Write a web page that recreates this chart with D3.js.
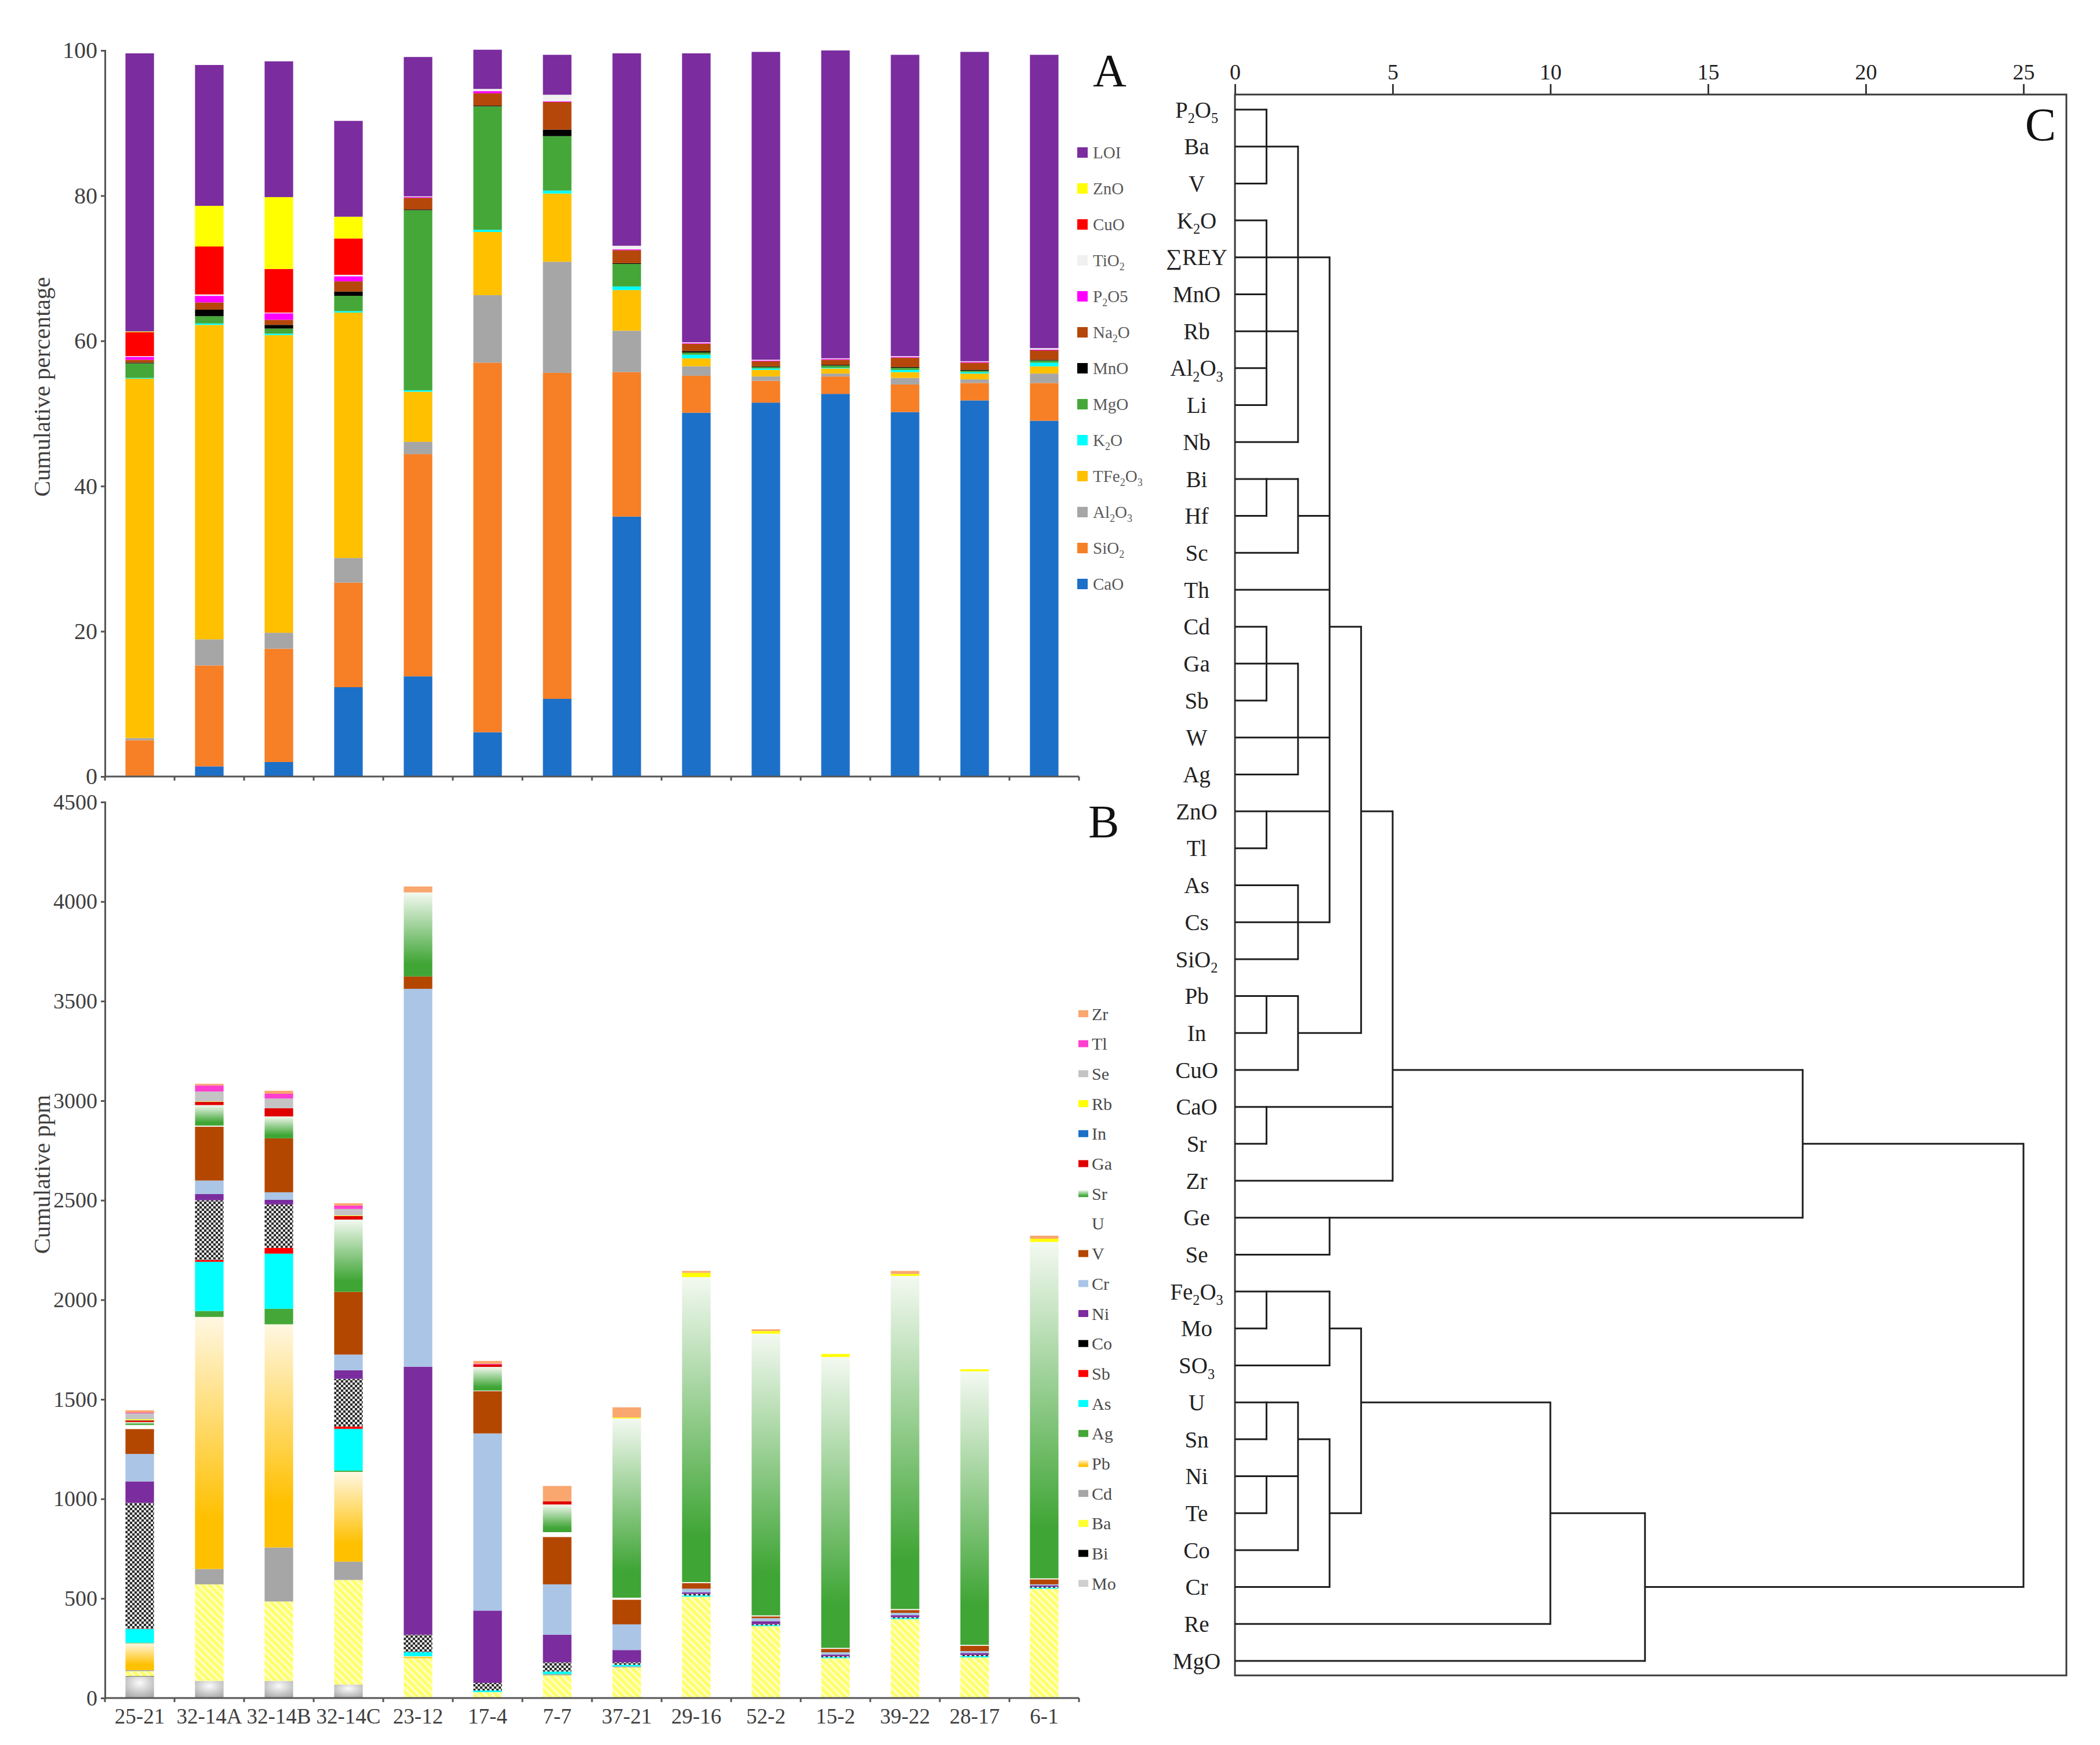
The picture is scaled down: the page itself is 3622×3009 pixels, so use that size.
<!DOCTYPE html>
<html>
<head>
<meta charset="utf-8">
<script src="https://cdn.jsdelivr.net/npm/d3@7"></script>
<style>
body { margin: 0; background: #fff; }
svg { display: block; }
text { font-family: "Liberation Serif", "Times New Roman", serif; }
</style>
</head>
<body>
<svg id="chart"></svg>
<script>
const samples = ["25-21", "32-14A", "32-14B", "32-14C", "23-12", "17-4", "7-7", "37-21", "29-16", "52-2", "15-2", "39-22", "28-17", "6-1"];

// panel A, major oxides (wt%), bottom to top
const CaO    = [0.1, 1.4, 2.0, 12.3, 13.8, 6.1, 10.7, 35.8, 50.1, 51.5, 52.7, 50.2, 51.8, 49.0];
const SiO2   = [4.9, 13.9, 15.6, 14.4, 30.6, 50.9, 44.9, 19.9, 5.1, 3.0, 2.4, 3.8, 2.4, 5.2];
const Al2O3  = [0.3, 3.6, 2.2, 3.4, 1.7, 9.3, 15.3, 5.7, 1.3, 0.6, 0.4, 0.9, 0.5, 1.3];
const TFe2O3 = [49.5, 43.3, 41.0, 33.8, 6.9, 8.7, 9.4, 5.6, 1.1, 0.9, 0.7, 0.8, 0.8, 1.0];
const K2O    = [0.1, 0.2, 0.2, 0.2, 0.2, 0.3, 0.4, 0.5, 0.5, 0.2, 0.1, 0.3, 0.2, 0.5];
const MgO    = [2.0, 1.0, 0.7, 2.1, 24.8, 17.0, 7.5, 3.1, 0.3, 0.2, 0.3, 0.3, 0.2, 0.3];
const MnO    = [0.1, 0.9, 0.5, 0.6, 0.1, 0.1, 0.9, 0.1, 0.2, 0.1, 0.1, 0.1, 0.1, 0.1];
const Na2O   = [0.4, 1.0, 0.7, 1.4, 1.6, 1.7, 3.8, 1.8, 1.0, 0.7, 0.7, 1.3, 1.0, 1.3];
const P2O5   = [0.4, 0.9, 0.9, 0.7, 0.1, 0.3, 0.1, 0.1, 0.1, 0.1, 0.1, 0.1, 0.1, 0.1];
const TiO2   = [0.1, 0.2, 0.1, 0.2, 0.1, 0.3, 0.9, 0.5, 0.1, 0.1, 0.1, 0.1, 0.1, 0.2];
const CuO    = [3.3, 6.6, 6.0, 5.0, 0, 0, 0, 0, 0, 0, 0, 0, 0, 0];
const ZnO    = [0.1, 5.6, 9.9, 3.0, 0, 0, 0, 0, 0, 0, 0, 0, 0, 0];
const LOI    = [38.3, 19.4, 18.7, 13.2, 19.2, 5.4, 5.5, 26.5, 39.8, 42.4, 42.4, 41.5, 42.6, 40.4];

const keysA   = ["CaO", "SiO2", "Al2O3", "TFe2O3", "K2O", "MgO", "MnO", "Na2O", "P2O5", "TiO2", "CuO", "ZnO", "LOI"];
const labelsA = ["CaO", "SiO_2", "Al_2O_3", "TFe_2O_3", "K_2O", "MgO", "MnO", "Na_2O", "P_2O5", "TiO_2", "CuO", "ZnO", "LOI"];
const colorsA = ["#1c70c8", "#f77f26", "#a6a6a6", "#ffc000", "#00ffff", "#45a738", "#000000", "#b5470a", "#ff00ff", "#f0f0f0", "#ff0000", "#ffff00", "#7b2c9e"];
const valuesA = [CaO, SiO2, Al2O3, TFe2O3, K2O, MgO, MnO, Na2O, P2O5, TiO2, CuO, ZnO, LOI];

// panel B, trace elements (ppm), bottom to top
const Mo = [108, 86, 86, 68, 0, 0, 0, 0, 0, 0, 0, 0, 0, 0];
const Bi = [2, 0, 0, 0, 0, 0, 0, 0, 0, 0, 0, 0, 0, 0];
const Ba = [25, 485, 399, 525, 200, 30, 114, 154, 509, 361, 200, 396, 204, 549];
const Cd = [5, 77, 271, 92, 0, 0, 5, 5, 0, 0, 0, 0, 0, 0];
const Pb = [135, 1266, 1121, 451, 10, 0, 0, 0, 0, 0, 0, 0, 0, 0];
const Ag = [3, 30, 78, 6, 0, 0, 2, 0, 0, 0, 0, 0, 0, 0];
const As = [70, 247, 277, 210, 20, 8, 12, 8, 6, 5, 5, 5, 6, 5];
const Sb = [2, 9, 29, 12, 0, 0, 0, 0, 0, 0, 0, 0, 0, 0];
const Co = [630, 300, 218, 239, 88, 38, 46, 12, 8, 5, 5, 5, 6, 5];
const Ni = [108, 31, 23, 43, 1346, 363, 139, 62, 8, 15, 8, 10, 10, 6];
const Cr = [138, 68, 38, 79, 1898, 890, 253, 129, 18, 15, 12, 12, 10, 6];
const V  = [125, 271, 271, 315, 62, 212, 238, 124, 28, 9, 17, 14, 26, 25];
const U  = [20, 5, 0, 0, 0, 3, 24, 10, 5, 5, 5, 5, 5, 5];
const Sr = [15, 103, 110, 363, 422, 119, 139, 900, 1532, 1415, 1461, 1673, 1374, 1690];
const Ga = [8, 16, 41, 18, 0, 12, 16, 0, 0, 0, 0, 0, 0, 0];
const In = [1, 0, 0, 0, 0, 0, 0, 0, 0, 0, 0, 0, 0, 0];
const Rb = [5, 2, 0, 3, 0, 0, 0, 5, 22, 13, 15, 10, 10, 16];
const Se = [30, 50, 49, 32, 0, 0, 0, 0, 0, 0, 0, 0, 0, 0];
const Tl = [3, 31, 24, 17, 0, 3, 0, 0, 0, 0, 0, 0, 0, 0];
const Zr = [12, 8, 15, 12, 30, 15, 77, 51, 9, 9, 0, 15, 0, 15];

const keysB   = ["Mo", "Bi", "Ba", "Cd", "Pb", "Ag", "As", "Sb", "Co", "Ni", "Cr", "V", "U", "Sr", "Ga", "In", "Rb", "Se", "Tl", "Zr"];
const colorsB = ["url(#gMo)", "#000000", "url(#pBa)", "#a6a6a6", "url(#gPb)", "#45a738", "#00ffff", "#ff0000", "url(#pCo)", "#7b2c9e",
                 "#aac5e6", "#b34700", "#ffffff", "url(#gSr)", "#e00000", "#1c70c8", "#ffff00", "#c4c4c4", "#ff3fcf", "#f9a66f"];
const legendB = ["#cfcfcf", "#000000", "#ffff33", "#a6a6a6", "url(#gPb)", "#45a738", "#00ffff", "#ff0000", "#000000", "#7b2c9e",
                 "#aac5e6", "#b34700", "#ffffff", "url(#gSr)", "#e00000", "#1c70c8", "#ffff00", "#c4c4c4", "#ff3fcf", "#f9a66f"];
const valuesB = [Mo, Bi, Ba, Cd, Pb, Ag, As, Sb, Co, Ni, Cr, V, U, Sr, Ga, In, Rb, Se, Tl, Zr];

const ticksA = [0, 20, 40, 60, 80, 100];
const ticksB = [0, 500, 1000, 1500, 2000, 2500, 3000, 3500, 4000, 4500];

// panel C, dendrogram (rescaled distance 0-25)
const leaves = ["P_2O_5", "Ba", "V", "K_2O", "\u2211REY", "MnO", "Rb", "Al_2O_3", "Li", "Nb", "Bi", "Hf", "Sc", "Th", "Cd", "Ga", "Sb", "W", "Ag",
                "ZnO", "Tl", "As", "Cs", "SiO_2", "Pb", "In", "CuO", "CaO", "Sr", "Zr", "Ge", "Se", "Fe_2O_3", "Mo", "SO_3", "U", "Sn", "Ni", "Te",
                "Co", "Cr", "Re", "MgO"];
const ticksC = [0, 5, 10, 15, 20, 25];
// horizontal links: [leaf row, distance from, distance to]
const linksH = [
  [0, 0, 1], [1, 0, 2], [2, 0, 1], [3, 0, 1], [4, 0, 3], [5, 0, 1], [6, 0, 2], [7, 0, 1], [8, 0, 1], [9, 0, 2],
  [10, 0, 2], [11, 0, 1], [11, 2, 3], [12, 0, 2], [13, 0, 3], [14, 0, 1], [14, 3, 4], [15, 0, 2], [16, 0, 1], [17, 0, 3],
  [18, 0, 2], [19, 0, 3], [19, 4, 5], [20, 0, 1], [21, 0, 2], [22, 0, 3], [23, 0, 2], [24, 0, 2], [25, 0, 1], [25, 2, 4],
  [26, 0, 2], [26, 5, 18], [27, 0, 5], [28, 0, 1], [28, 18, 25], [29, 0, 5], [30, 0, 18], [31, 0, 3], [32, 0, 3], [33, 0, 1],
  [33, 3, 4], [34, 0, 3], [35, 0, 2], [35, 4, 10], [36, 0, 1], [36, 2, 3], [37, 0, 2], [38, 0, 1], [38, 3, 4], [38, 10, 13],
  [39, 0, 2], [40, 0, 3], [40, 13, 25], [41, 0, 10], [42, 0, 13]
];
// vertical joins: [distance, from row, to row]
const linksV = [
  [1, 0, 2], [2, 1, 9], [1, 3, 8], [1, 10, 11], [2, 10, 12], [3, 4, 22], [1, 14, 16], [2, 15, 18], [1, 19, 20], [4, 14, 25],
  [5, 19, 29], [2, 21, 23], [1, 24, 25], [2, 24, 26], [1, 27, 28], [18, 26, 30], [3, 30, 31], [1, 32, 33], [3, 32, 34],
  [4, 33, 38], [1, 35, 36], [1, 37, 38], [2, 35, 39], [3, 36, 40], [10, 35, 41], [13, 38, 42], [25, 28, 40]
];

const W = 3622, H = 3009;
const svg = d3.select("#chart").attr("width", W).attr("height", H);
svg.append("rect").attr("width", W).attr("height", H).attr("fill", "#fff");

const defs = svg.append("defs");
function vGrad(id, stops) {
  const g = defs.append("linearGradient").attr("id", id).attr("x1", 0).attr("y1", 0).attr("x2", 0).attr("y2", 1);
  stops.forEach(s => g.append("stop").attr("offset", s[0]).attr("stop-color", s[1]));
}
vGrad("gSr", [[0, "#f3f9f1"], [0.85, "#3fa535"], [1, "#3fa535"]]);
vGrad("gPb", [[0, "#fff7e2"], [0.8, "#ffc000"], [1, "#ffc000"]]);
const rg = defs.append("radialGradient").attr("id", "gMo").attr("cx", 0.5).attr("cy", 0.3).attr("r", 0.75);
rg.append("stop").attr("offset", 0).attr("stop-color", "#fbfbfb");
rg.append("stop").attr("offset", 1).attr("stop-color", "#a9a9a9");
const pBa = defs.append("pattern").attr("id", "pBa").attr("patternUnits", "userSpaceOnUse")
  .attr("width", 9).attr("height", 9).attr("patternTransform", "rotate(-45)");
pBa.append("rect").attr("width", 9).attr("height", 9).attr("fill", "#ffff6e");
pBa.append("rect").attr("width", 3).attr("height", 9).attr("fill", "#ffffd0");
const pCo = defs.append("pattern").attr("id", "pCo").attr("patternUnits", "userSpaceOnUse").attr("width", 8).attr("height", 8);
pCo.append("rect").attr("width", 8).attr("height", 8).attr("fill", "#e6e6e6");
pCo.append("rect").attr("width", 4).attr("height", 4).attr("fill", "#2a2a2a");
pCo.append("rect").attr("x", 4).attr("y", 4).attr("width", 4).attr("height", 4).attr("fill", "#2a2a2a");

// text with chemical subscripts written as "_2"
function chem(sel, label, fs) {
  const parts = label.split(/_(\d)/);
  parts.forEach((p, i) => {
    if (p === "") return;
    const t = sel.append("tspan").text(p);
    if (i % 2 === 1) {
      t.attr("font-size", fs * 0.62).attr("dy", fs * 0.25);
    } else if (i > 0) {
      t.attr("dy", -fs * 0.25);
    }
  });
}

const axisColor = "#555";
const textColor = "#404040";

const x = d3.scaleBand().domain(samples).range([181, 1861]).paddingInner(0.59).paddingOuter(0.295);

function xAxisLine(y0) {
  svg.append("line").attr("x1", 181).attr("x2", 1861).attr("y1", y0).attr("y2", y0)
    .attr("stroke", axisColor).attr("stroke-width", 3);
  svg.append("g").selectAll("line").data(d3.range(samples.length + 1)).join("line")
    .attr("x1", i => 181 + i * x.step()).attr("x2", i => 181 + i * x.step())
    .attr("y1", y0).attr("y2", y0 + 7)
    .attr("stroke", axisColor).attr("stroke-width", 3);
}

function yAxis(scale, ticks, fs) {
  const g = svg.append("g").attr("transform", "translate(181,0)")
    .call(d3.axisLeft(scale).tickValues(ticks).tickSize(7).tickPadding(6).tickFormat(d3.format("d")));
  g.selectAll("path,line").attr("stroke", axisColor).attr("stroke-width", 3);
  g.selectAll("text").attr("font-size", fs).attr("fill", textColor)
    .attr("font-family", "Liberation Serif, serif");
}

// ---------- Panel A ----------
const yA = d3.scaleLinear().domain([0, 100]).range([1339, 87]);
const tableA = samples.map((s, i) => {
  const row = { sample: s };
  keysA.forEach((k, j) => row[k] = valuesA[j][i]);
  return row;
});
const stackA = d3.stack().keys(keysA)(tableA);

svg.append("g").selectAll("g").data(stackA).join("g")
  .attr("fill", (d, i) => colorsA[i])
  .selectAll("rect").data(d => d).join("rect")
  .attr("x", d => x(d.data.sample))
  .attr("width", x.bandwidth())
  .attr("y", d => yA(d[1]))
  .attr("height", d => yA(d[0]) - yA(d[1]));

yAxis(yA, ticksA, 40);
xAxisLine(1339);

svg.append("text").attr("transform", "translate(72,667) rotate(-90)")
  .attr("text-anchor", "middle").attr("dominant-baseline", "central")
  .attr("font-size", 41).attr("fill", textColor).text("Cumulative percentage");

const legA = svg.append("g").selectAll("g").data(keysA.map((k, i) => i).reverse()).join("g")
  .attr("transform", (d, j) => `translate(1858,${263 + j * 62})`);
legA.append("rect").attr("y", -9).attr("width", 18).attr("height", 18).attr("fill", i => colorsA[i]);
legA.append("text").attr("x", 27).attr("dy", "0.35em").attr("font-size", 29).attr("fill", "#595959")
  .each(function (i) { chem(d3.select(this), labelsA[i], 29); });

svg.append("text").attr("x", 1885).attr("y", 149).attr("font-size", 80).attr("fill", "#111").text("A");

// ---------- Panel B ----------
const yB = d3.scaleLinear().domain([0, 4500]).range([2928, 1383]);
const tableB = samples.map((s, i) => {
  const row = { sample: s };
  keysB.forEach((k, j) => row[k] = valuesB[j][i]);
  return row;
});
const stackB = d3.stack().keys(keysB)(tableB);

svg.append("g").selectAll("g").data(stackB).join("g")
  .attr("fill", (d, i) => colorsB[i])
  .selectAll("rect").data(d => d).join("rect")
  .attr("x", d => x(d.data.sample))
  .attr("width", x.bandwidth())
  .attr("y", d => yB(d[1]))
  .attr("height", d => yB(d[0]) - yB(d[1]));

yAxis(yB, ticksB, 38);
xAxisLine(2928);

svg.append("g").selectAll("text").data(samples).join("text")
  .attr("x", d => x(d) + x.bandwidth() / 2).attr("y", 2972)
  .attr("text-anchor", "middle").attr("font-size", 37).attr("fill", textColor)
  .text(d => d);

svg.append("text").attr("transform", "translate(72,2025) rotate(-90)")
  .attr("text-anchor", "middle").attr("dominant-baseline", "central")
  .attr("font-size", 41).attr("fill", textColor).text("Cumulative ppm");

const legB = svg.append("g").selectAll("g").data(keysB.map((k, i) => i).reverse()).join("g")
  .attr("transform", (d, j) => `translate(1860,${1748 + j * 51.7})`);
legB.append("rect").attr("y", -6).attr("width", 17).attr("height", 12).attr("fill", i => legendB[i]);
legB.append("text").attr("x", 23).attr("dy", "0.35em").attr("font-size", 30).attr("fill", "#4a4a4a")
  .text(i => keysB[i]);

svg.append("text").attr("x", 1877).attr("y", 1444).attr("font-size", 80).attr("fill", "#111").text("B");

// ---------- Panel C ----------
const xd = d3.scaleLinear().domain([0, 25]).range([2130, 3490]);
const yd = d3.scaleLinear().domain([0, leaves.length - 1]).range([189, 2864]);
const boxRight = xd.invert(3564), boxTop = yd.invert(163), boxBottom = yd.invert(2889);

const lineC = "#1e1e1e";
const box = svg.append("g").attr("fill", "none").attr("stroke", "#3a3a3a").attr("stroke-width", 3);
box.append("rect").attr("x", xd(0)).attr("y", yd(boxTop))
  .attr("width", xd(boxRight) - xd(0)).attr("height", yd(boxBottom) - yd(boxTop));

const axC = svg.append("g").attr("transform", `translate(0,${yd(boxTop)})`)
  .call(d3.axisTop(xd).tickValues(ticksC).tickSize(18).tickPadding(8).tickFormat(d3.format("d")));
axC.select(".domain").remove();
axC.selectAll("line").attr("stroke", "#3a3a3a").attr("stroke-width", 3);
axC.selectAll("text").attr("font-size", 38).attr("fill", "#222").attr("font-family", "Liberation Serif, serif");

svg.append("g").selectAll("line").data(linksH).join("line")
  .attr("x1", d => xd(d[1])).attr("x2", d => xd(d[2]))
  .attr("y1", d => yd(d[0])).attr("y2", d => yd(d[0]))
  .attr("stroke", lineC).attr("stroke-width", 3);
svg.append("g").selectAll("line").data(linksV).join("line")
  .attr("x1", d => xd(d[0])).attr("x2", d => xd(d[0]))
  .attr("y1", d => yd(d[1]) - 1.5).attr("y2", d => yd(d[2]) + 1.5)
  .attr("stroke", lineC).attr("stroke-width", 3);

svg.append("g").selectAll("text").data(leaves).join("text")
  .attr("x", 2064).attr("y", (d, i) => yd(i)).attr("dy", "0.35em")
  .attr("text-anchor", "middle").attr("font-size", 39).attr("fill", "#222")
  .each(function (d) { chem(d3.select(this), d, 39); });

svg.append("text").attr("x", 3546).attr("y", 242).attr("text-anchor", "end")
  .attr("font-size", 80).attr("fill", "#111").text("C");
</script>
</body>
</html>
